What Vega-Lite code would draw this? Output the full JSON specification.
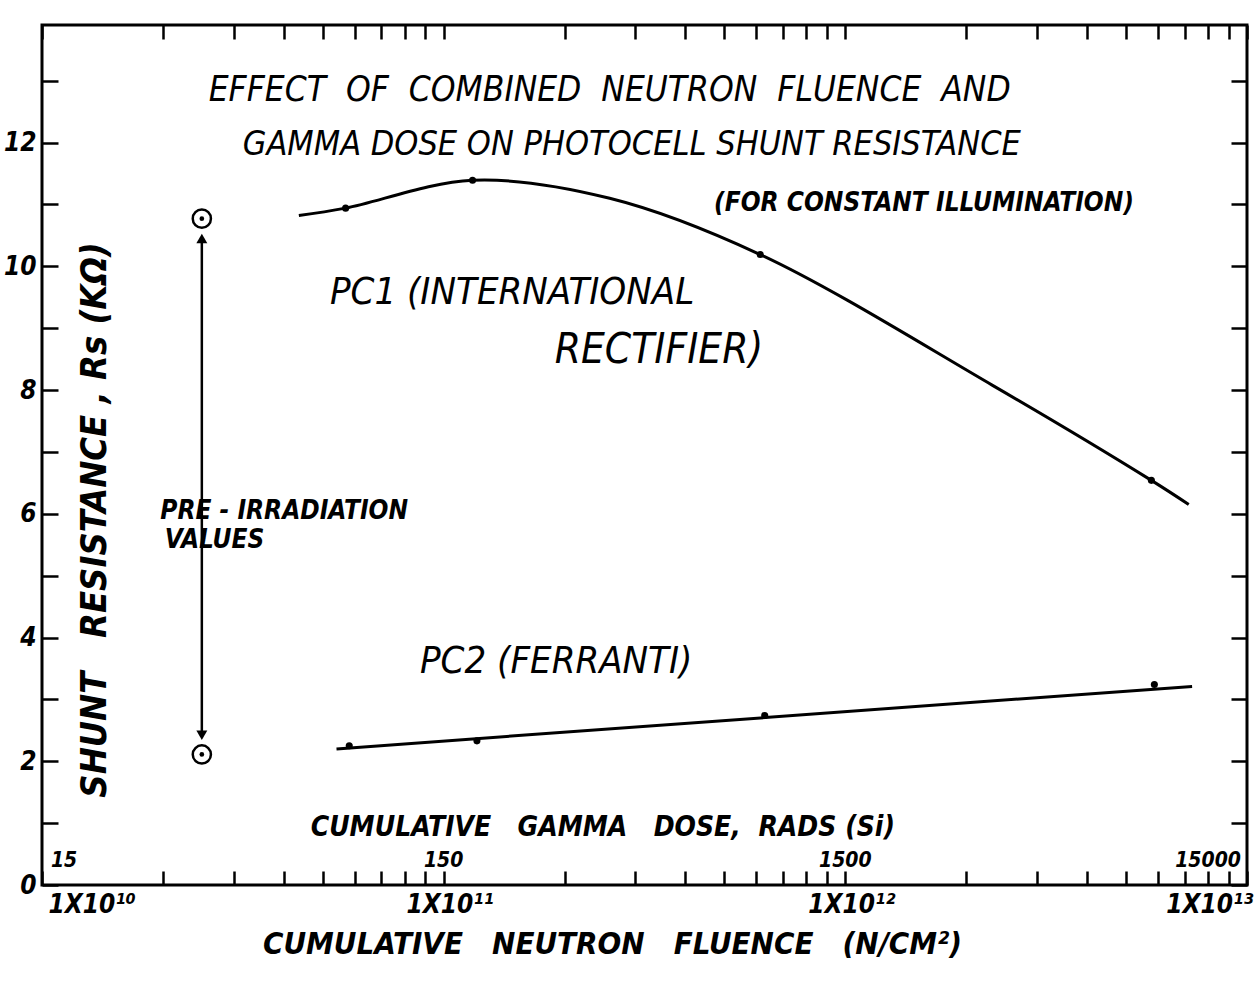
{
  "$schema": "https://vega.github.io/schema/vega-lite/v6.json",
  "width": 1205,
  "height": 860,
  "autosize": {"type": "none"},
  "padding": {"left": 42, "top": 25, "right": 12, "bottom": 98},
  "background": "white",
  "config": {
    "view": {"stroke": "black", "strokeWidth": 3},
    "axis": {"domain": false, "grid": false}
  },
  "datasets": {
    "curve1": [
      {"fluence": 4.36e10, "rs": 10.82},
      {"fluence": 5.7e10, "rs": 10.94},
      {"fluence": 1.18e11, "rs": 11.39},
      {"fluence": 2.59e11, "rs": 11.1},
      {"fluence": 6.14e11, "rs": 10.19},
      {"fluence": 2.32e12, "rs": 8.08},
      {"fluence": 5.78e12, "rs": 6.54},
      {"fluence": 7.16e12, "rs": 6.15}
    ],
    "curve2": [
      {"fluence": 5.41e10, "rs": 2.2},
      {"fluence": 7.3e12, "rs": 3.21}
    ],
    "dots": [
      {"fluence": 5.7e10, "rs": 10.94, "device": "PC1"},
      {"fluence": 1.18e11, "rs": 11.39, "device": "PC1"},
      {"fluence": 6.14e11, "rs": 10.19, "device": "PC1"},
      {"fluence": 5.78e12, "rs": 6.54, "device": "PC1"},
      {"fluence": 5.82e10, "rs": 2.25, "device": "PC2"},
      {"fluence": 1.21e11, "rs": 2.33, "device": "PC2"},
      {"fluence": 6.3e11, "rs": 2.74, "device": "PC2"},
      {"fluence": 5.88e12, "rs": 3.24, "device": "PC2"}
    ],
    "pre": [
      {"fluence": 2.5e10, "rs": 10.77, "device": "PC1"},
      {"fluence": 2.5e10, "rs": 2.11, "device": "PC2"}
    ],
    "arrow": [
      {"fluence": 2.5e10, "low": 2.45, "high": 10.42}
    ],
    "heads": [
      {"fluence": 2.5e10, "rs": 10.45, "dir": "up"},
      {"fluence": 2.5e10, "rs": 2.42, "dir": "down"}
    ],
    "notes": [
      {"note": "title1", "fluence": 2.59e11, "rs": 12.85, "label": "EFFECT\u00a0 OF\u00a0 COMBINED\u00a0 NEUTRON\u00a0 FLUENCE\u00a0 AND"},
      {"note": "title2", "fluence": 2.94e11, "rs": 11.96, "label": "GAMMA DOSE ON PHOTOCELL SHUNT RESISTANCE"},
      {"note": "illum", "fluence": 1.57e12, "rs": 11.02, "label": "(FOR CONSTANT ILLUMINATION)"},
      {"note": "pc", "fluence": 5.21e10, "rs": 9.57, "label": "PC1 (INTERNATIONAL"},
      {"note": "rect", "fluence": 1.89e11, "rs": 8.65, "label": "RECTIFIER)"},
      {"note": "pc", "fluence": 8.73e10, "rs": 3.6, "label": "PC2 (FERRANTI)"},
      {"note": "pre", "fluence": 1.97e10, "rs": 6.05, "label": "PRE - IRRADIATION"},
      {"note": "pre", "fluence": 2.02e10, "rs": 5.58, "label": "VALUES"},
      {"note": "gamma", "fluence": 2.49e11, "rs": 0.92, "label": "CUMULATIVE\u00a0\u00a0 GAMMA\u00a0\u00a0 DOSE,\u00a0 RADS (Si)"},
      {"note": "ytitle", "fluence": 1.355e10, "rs": 5.9, "label": "SHUNT\u00a0\u00a0 RESISTANCE , Rs (KΩ)"}
    ],
    "dose": [
      {"fluence": 1.135e10, "rs": 0.38, "dose": "15"},
      {"fluence": 1e11, "rs": 0.38, "dose": "150"},
      {"fluence": 1e12, "rs": 0.38, "dose": "1500"},
      {"fluence": 8.0e12, "rs": 0.38, "dose": "15000"}
    ]
  },
  "resolve": {"axis": {"x": "independent", "y": "independent"}},
  "layer": [
    {
      "data": {"name": "curve1"},
      "mark": {"type": "line", "interpolate": "catmull-rom", "color": "black", "strokeWidth": 3},
      "encoding": {
        "x": {
          "field": "fluence", "type": "quantitative",
          "scale": {"type": "log", "domain": [1e10, 1e13]},
          "axis": {
            "orient": "bottom",
            "values": [1e10, 2e10, 3e10, 4e10, 5e10, 6e10, 7e10, 8e10, 9e10, 1e11, 2e11, 3e11, 4e11, 5e11, 6e11, 7e11, 8e11, 9e11, 1e12, 2e12, 3e12, 4e12, 5e12, 6e12, 7e12, 8e12, 9e12, 1e13],
            "tickSize": -14, "tickWidth": 2.5, "tickColor": "black",
            "labelExpr": "datum.value == 10000000000 ? '1X10¹⁰' : datum.value == 100000000000 ? '1X10¹¹' : datum.value == 1000000000000 ? '1X10¹²' : datum.value == 10000000000000 ? '1X10¹³' : ''",
            "labelFlush": true, "labelOverlap": false,
            "labelFont": "Liberation Sans Narrow, DejaVu Sans Condensed, Liberation Sans, sans-serif",
            "labelFontSize": 26, "labelFontStyle": "italic", "labelFontWeight": "bold",
            "labelColor": "black", "labelPadding": 20, "labelOffset": 6,
            "title": "CUMULATIVE\u00a0\u00a0 NEUTRON\u00a0\u00a0 FLUENCE\u00a0\u00a0 (N/CM²)",
            "titleFont": "Liberation Sans Narrow, DejaVu Sans Condensed, Liberation Sans, sans-serif",
            "titleFontSize": 31, "titleFontStyle": "italic", "titleFontWeight": "bold",
            "titleColor": "black", "titlePadding": 12, "titleX": 570
          }
        },
        "y": {
          "field": "rs", "type": "quantitative",
          "scale": {"domain": [0, 13.9], "nice": false, "zero": false},
          "axis": {
            "orient": "left",
            "values": [0, 1, 2, 3, 4, 5, 6, 7, 8, 9, 10, 11, 12, 13],
            "tickSize": -16, "tickWidth": 2.5, "tickColor": "black",
            "labelExpr": "datum.value % 2 == 0 && datum.value <= 12 ? datum.label : ''",
            "labelFont": "Liberation Sans Narrow, DejaVu Sans Condensed, Liberation Sans, sans-serif",
            "labelFontSize": 26, "labelFontStyle": "italic", "labelFontWeight": "bold",
            "labelColor": "black", "labelPadding": 22,
            "title": null
          }
        }
      }
    },
    {
      "data": {"name": "pre"},
      "mark": {"type": "point", "opacity": 0},
      "encoding": {
        "x": {
          "field": "fluence", "type": "quantitative",
          "axis": {
            "orient": "top",
            "values": [1e10, 2e10, 3e10, 4e10, 5e10, 6e10, 7e10, 8e10, 9e10, 1e11, 2e11, 3e11, 4e11, 5e11, 6e11, 7e11, 8e11, 9e11, 1e12, 2e12, 3e12, 4e12, 5e12, 6e12, 7e12, 8e12, 9e12, 1e13],
            "tickSize": -14, "tickWidth": 2.5, "tickColor": "black",
            "labels": false, "title": null
          }
        },
        "y": {
          "field": "rs", "type": "quantitative",
          "axis": {
            "orient": "right",
            "values": [0, 1, 2, 3, 4, 5, 6, 7, 8, 9, 10, 11, 12, 13],
            "tickSize": -16, "tickWidth": 2.5, "tickColor": "black",
            "labels": false, "title": null
          }
        }
      }
    },
    {
      "data": {"name": "curve2"},
      "mark": {"type": "line", "color": "black", "strokeWidth": 3},
      "encoding": {
        "x": {"field": "fluence", "type": "quantitative", "axis": null},
        "y": {"field": "rs", "type": "quantitative", "axis": null}
      }
    },
    {
      "data": {"name": "dots"},
      "mark": {"type": "point", "filled": true, "color": "black", "size": 50, "opacity": 1},
      "encoding": {
        "x": {"field": "fluence", "type": "quantitative", "axis": null},
        "y": {"field": "rs", "type": "quantitative", "axis": null}
      }
    },
    {
      "data": {"name": "arrow"},
      "mark": {"type": "rule", "color": "black", "strokeWidth": 2.5},
      "encoding": {
        "x": {"field": "fluence", "type": "quantitative", "axis": null},
        "y": {"field": "low", "type": "quantitative", "axis": null},
        "y2": {"field": "high"}
      }
    },
    {
      "data": {"name": "heads"},
      "mark": {"type": "point", "filled": true, "color": "black", "size": 120, "opacity": 1},
      "encoding": {
        "x": {"field": "fluence", "type": "quantitative", "axis": null},
        "y": {"field": "rs", "type": "quantitative", "axis": null},
        "shape": {"field": "dir", "type": "nominal", "scale": {"domain": ["up", "down"], "range": ["triangle-up", "triangle-down"]}, "legend": null}
      }
    },
    {
      "data": {"name": "pre"},
      "mark": {"type": "point", "filled": false, "color": "black", "size": 330, "strokeWidth": 2.5, "opacity": 1},
      "encoding": {
        "x": {"field": "fluence", "type": "quantitative", "axis": null},
        "y": {"field": "rs", "type": "quantitative", "axis": null}
      }
    },
    {
      "data": {"name": "pre"},
      "mark": {"type": "point", "filled": true, "color": "black", "size": 22, "opacity": 1},
      "encoding": {
        "x": {"field": "fluence", "type": "quantitative", "axis": null},
        "y": {"field": "rs", "type": "quantitative", "axis": null}
      }
    },
    {
      "data": {"name": "notes"},
      "transform": [{"filter": "datum.note == 'title1'"}],
      "mark": {"type": "text", "font": "Liberation Sans Narrow, DejaVu Sans Condensed, Liberation Sans, sans-serif", "fontSize": 35, "fontStyle": "italic", "align": "center", "baseline": "middle", "color": "black"},
      "encoding": {
        "x": {"field": "fluence", "type": "quantitative", "axis": null},
        "y": {"field": "rs", "type": "quantitative", "axis": null},
        "text": {"field": "label"}
      }
    },
    {
      "data": {"name": "notes"},
      "transform": [{"filter": "datum.note == 'title2'"}],
      "mark": {"type": "text", "font": "Liberation Sans Narrow, DejaVu Sans Condensed, Liberation Sans, sans-serif", "fontSize": 34, "fontStyle": "italic", "align": "center", "baseline": "middle", "color": "black"},
      "encoding": {
        "x": {"field": "fluence", "type": "quantitative", "axis": null},
        "y": {"field": "rs", "type": "quantitative", "axis": null},
        "text": {"field": "label"}
      }
    },
    {
      "data": {"name": "notes"},
      "transform": [{"filter": "datum.note == 'illum'"}],
      "mark": {"type": "text", "font": "Liberation Sans Narrow, DejaVu Sans Condensed, Liberation Sans, sans-serif", "fontSize": 26, "fontStyle": "italic", "fontWeight": "bold", "align": "center", "baseline": "middle", "color": "black"},
      "encoding": {
        "x": {"field": "fluence", "type": "quantitative", "axis": null},
        "y": {"field": "rs", "type": "quantitative", "axis": null},
        "text": {"field": "label"}
      }
    },
    {
      "data": {"name": "notes"},
      "transform": [{"filter": "datum.note == 'pc'"}],
      "mark": {"type": "text", "font": "Liberation Sans Narrow, DejaVu Sans Condensed, Liberation Sans, sans-serif", "fontSize": 38, "fontStyle": "italic", "align": "left", "baseline": "middle", "color": "black"},
      "encoding": {
        "x": {"field": "fluence", "type": "quantitative", "axis": null},
        "y": {"field": "rs", "type": "quantitative", "axis": null},
        "text": {"field": "label"}
      }
    },
    {
      "data": {"name": "notes"},
      "transform": [{"filter": "datum.note == 'rect'"}],
      "mark": {"type": "text", "font": "Liberation Sans Narrow, DejaVu Sans Condensed, Liberation Sans, sans-serif", "fontSize": 42, "fontStyle": "italic", "align": "left", "baseline": "middle", "color": "black"},
      "encoding": {
        "x": {"field": "fluence", "type": "quantitative", "axis": null},
        "y": {"field": "rs", "type": "quantitative", "axis": null},
        "text": {"field": "label"}
      }
    },
    {
      "data": {"name": "notes"},
      "transform": [{"filter": "datum.note == 'pre'"}],
      "mark": {"type": "text", "font": "Liberation Sans Narrow, DejaVu Sans Condensed, Liberation Sans, sans-serif", "fontSize": 26, "fontStyle": "italic", "fontWeight": "bold", "align": "left", "baseline": "middle", "color": "black"},
      "encoding": {
        "x": {"field": "fluence", "type": "quantitative", "axis": null},
        "y": {"field": "rs", "type": "quantitative", "axis": null},
        "text": {"field": "label"}
      }
    },
    {
      "data": {"name": "notes"},
      "transform": [{"filter": "datum.note == 'gamma'"}],
      "mark": {"type": "text", "font": "Liberation Sans Narrow, DejaVu Sans Condensed, Liberation Sans, sans-serif", "fontSize": 28, "fontStyle": "italic", "fontWeight": "bold", "align": "center", "baseline": "middle", "color": "black"},
      "encoding": {
        "x": {"field": "fluence", "type": "quantitative", "axis": null},
        "y": {"field": "rs", "type": "quantitative", "axis": null},
        "text": {"field": "label"}
      }
    },
    {
      "data": {"name": "notes"},
      "transform": [{"filter": "datum.note == 'ytitle'"}],
      "mark": {"type": "text", "font": "Liberation Sans Narrow, DejaVu Sans Condensed, Liberation Sans, sans-serif", "fontSize": 36, "fontStyle": "italic", "fontWeight": "bold", "align": "center", "baseline": "middle", "angle": 270, "color": "black"},
      "encoding": {
        "x": {"field": "fluence", "type": "quantitative", "axis": null},
        "y": {"field": "rs", "type": "quantitative", "axis": null},
        "text": {"field": "label"}
      }
    },
    {
      "data": {"name": "dose"},
      "mark": {"type": "text", "font": "Liberation Sans Narrow, DejaVu Sans Condensed, Liberation Sans, sans-serif", "fontSize": 21, "fontStyle": "italic", "fontWeight": "bold", "align": "center", "baseline": "middle", "color": "black"},
      "encoding": {
        "x": {"field": "fluence", "type": "quantitative", "axis": null},
        "y": {"field": "rs", "type": "quantitative", "axis": null},
        "text": {"field": "dose"}
      }
    }
  ]
}
